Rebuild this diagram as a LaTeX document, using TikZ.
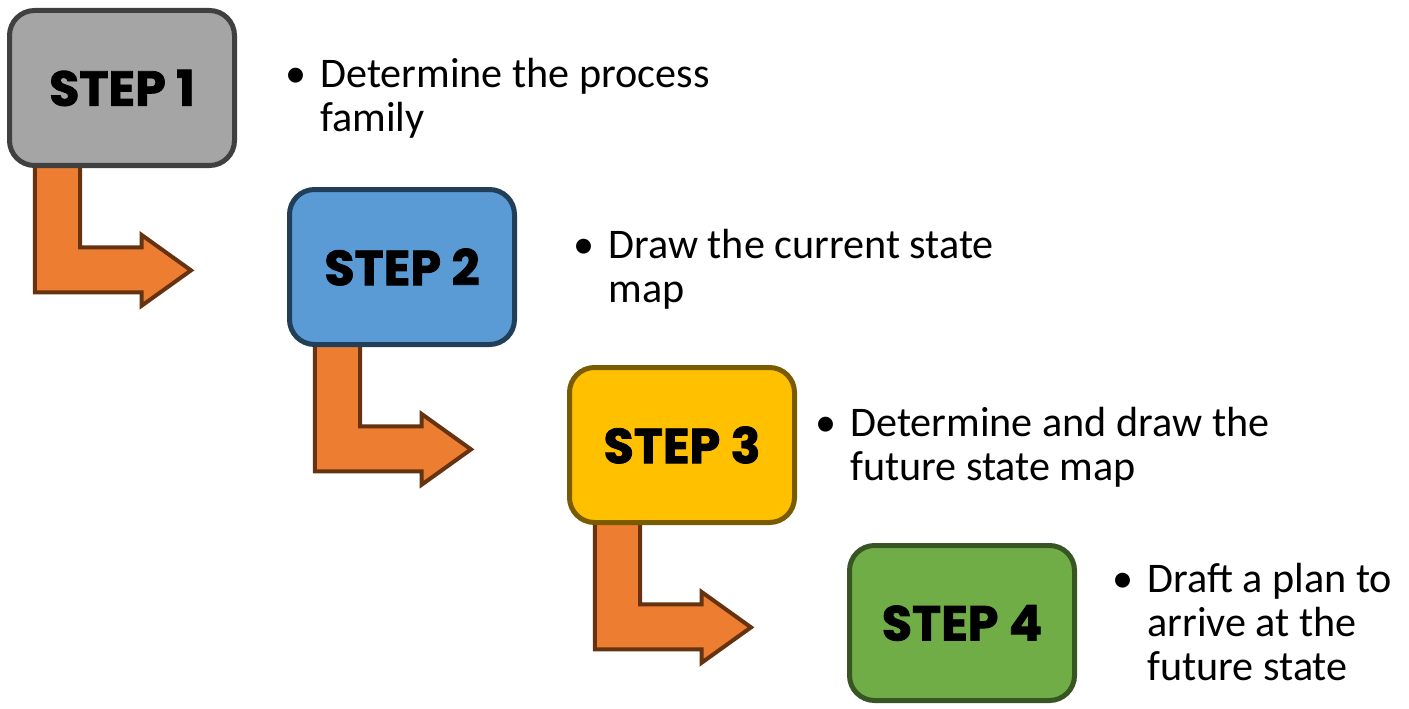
\documentclass[tikz,border=0pt]{standalone}
\usepackage{fontspec}
\setmainfont{Carlito}
\newfontfamily\stepfont{Poppins}[BoldFeatures={FakeBold=1.6}]
\usetikzlibrary{positioning, backgrounds}
\definecolor{StGray}{HTML}{A5A5A5}
\definecolor{StGrayLine}{HTML}{404040}
\definecolor{StBlue}{HTML}{5B9BD5}
\definecolor{StBlueLine}{HTML}{223F59}
\definecolor{StGold}{HTML}{FFC000}
\definecolor{StGoldLine}{HTML}{7A5B00}
\definecolor{StGreen}{HTML}{70AD47}
\definecolor{StGreenLine}{HTML}{375623}
\definecolor{StOrange}{HTML}{ED7D31}
\definecolor{StBrown}{HTML}{65330F}

\begin{document}
\begin{tikzpicture}[
  stepbox/.style={rectangle, rounded corners=0.5cm, line width=0.1cm,
                  minimum width=4.5cm, minimum height=3.1cm, inner sep=0pt,
                  font=\stepfont\bfseries\fontsize{28}{32}\selectfont},
  note/.style={inner sep=0pt, align=left,
               font=\fontsize{24}{25}\selectfont},
  bent/.style={fill=StOrange, draw=StBrown, line width=0.08cm},
]
\useasboundingbox (0,0) rectangle (28.18,-14.18);

% --- the four steps, stepping down to the right ---
\node[stepbox, fill=StGray, draw=StGrayLine, anchor=north west] (s1) at (0.14,-0.16) {STEP 1};
\node[stepbox, fill=StBlue, draw=StBlueLine, below right=0.38cm and 1cm of s1] (s2) {STEP 2};
\node[stepbox, fill=StGold, draw=StGoldLine, below right=0.36cm and 1cm of s2] (s3) {STEP 3};
\node[stepbox, fill=StGreen, draw=StGreenLine, below right=0.36cm and 1cm of s3] (s4) {STEP 4};

% --- bullet notes beside each step ---
\newcommand{\bul}{\makebox[0.7cm][l]{\textbullet}}
\node[note, right=0.96cm of s1, yshift=-0.26cm] (n1)
  {\begin{tabular}{@{}l@{}l@{}} \bul & Determine the process\\ & family \end{tabular}};
\node[note, right=1.12cm of s2, yshift=-0.1cm] (n2)
  {\begin{tabular}{@{}l@{}l@{}} \bul & Draw the current state\\ & map \end{tabular}};
\node[note, right=0.36cm of s3, yshift=-0.1cm] (n3)
  {\begin{tabular}{@{}l@{}l@{}} \bul & Determine and draw the\\ & future state map \end{tabular}};
\node[note, right=0.7cm of s4, yshift=-0.1cm] (n4)
  {\begin{tabular}{@{}l@{}l@{}} \bul & Draft a plan to\\ & arrive at the\\ & future state \end{tabular}};

% --- bent arrows from each step to the next ---
\begin{scope}[on background layer]
  \foreach \i in {1,2,3}
    \draw[bent, shift={(s\i.south west)}]
      (0.556,0.2) -- (0.556,-2.486) -- (2.694,-2.486) -- (2.694,-2.754)
      -- (3.68,-2.047) -- (2.694,-1.34) -- (2.694,-1.586)
      -- (1.46,-1.586) -- (1.46,0.2) -- cycle;
\end{scope}

\end{tikzpicture}
\end{document}
